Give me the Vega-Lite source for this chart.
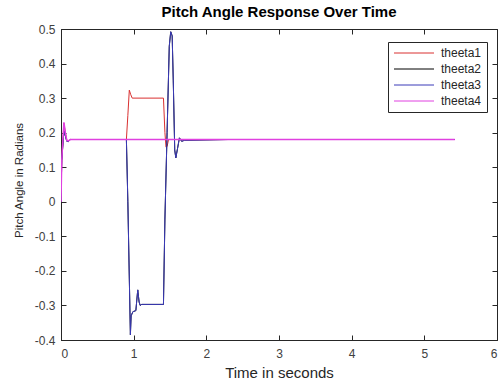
{
  "$schema": "https://vega.github.io/schema/vega-lite/v6.json",
  "width": 436,
  "height": 311,
  "autosize": {"type": "none"},
  "padding": {"left": 61, "top": 29, "right": 4, "bottom": 39},
  "background": "white",
  "config": {
    "font": "Liberation Sans",
    "view": {"stroke": "#262626", "strokeWidth": 1},
    "axis": {"grid": false, "domainColor": "#262626", "tickColor": "#262626", "labelColor": "#404040", "titleColor": "#262626", "labelFontSize": 12, "titleFontSize": 15, "titleFontWeight": "normal", "tickSize": -5, "labelFont": "Liberation Sans", "titleFont": "Liberation Sans"}
  },
  "title": {"text": "Pitch Angle Response Over Time", "fontSize": 15, "fontWeight": "bold", "font": "Liberation Sans", "color": "#000000", "offset": 3},
  "data": {"values": [
    {"t": 0, "v": 0, "s": "theeta1"},
    {"t": 0.01, "v": 0.12, "s": "theeta1"},
    {"t": 0.04, "v": 0.227, "s": "theeta1"},
    {"t": 0.06, "v": 0.2, "s": "theeta1"},
    {"t": 0.08, "v": 0.178, "s": "theeta1"},
    {"t": 0.1, "v": 0.175, "s": "theeta1"},
    {"t": 0.13, "v": 0.1802, "s": "theeta1"},
    {"t": 0.9, "v": 0.1802, "s": "theeta1"},
    {"t": 0.92, "v": 0.25, "s": "theeta1"},
    {"t": 0.94, "v": 0.323, "s": "theeta1"},
    {"t": 0.96, "v": 0.31, "s": "theeta1"},
    {"t": 0.98, "v": 0.3, "s": "theeta1"},
    {"t": 1.41, "v": 0.3, "s": "theeta1"},
    {"t": 1.43, "v": 0.2, "s": "theeta1"},
    {"t": 1.445, "v": 0.158, "s": "theeta1"},
    {"t": 1.46, "v": 0.16, "s": "theeta1"},
    {"t": 1.48, "v": 0.1802, "s": "theeta1"},
    {"t": 5.42, "v": 0.1802, "s": "theeta1"},

    {"t": 0, "v": 0, "s": "theeta2"},
    {"t": 0.01, "v": 0.12, "s": "theeta2"},
    {"t": 0.04, "v": 0.205, "s": "theeta2"},
    {"t": 0.06, "v": 0.19, "s": "theeta2"},
    {"t": 0.08, "v": 0.175, "s": "theeta2"},
    {"t": 0.1, "v": 0.174, "s": "theeta2"},
    {"t": 0.13, "v": 0.1802, "s": "theeta2"},
    {"t": 0.9, "v": 0.1802, "s": "theeta2"},
    {"t": 0.92, "v": 0.0, "s": "theeta2"},
    {"t": 0.955, "v": -0.385, "s": "theeta2"},
    {"t": 0.965, "v": -0.33, "s": "theeta2"},
    {"t": 0.99, "v": -0.318, "s": "theeta2"},
    {"t": 1.03, "v": -0.315, "s": "theeta2"},
    {"t": 1.056, "v": -0.255, "s": "theeta2"},
    {"t": 1.075, "v": -0.29, "s": "theeta2"},
    {"t": 1.09, "v": -0.3, "s": "theeta2"},
    {"t": 1.11, "v": -0.297, "s": "theeta2"},
    {"t": 1.41, "v": -0.297, "s": "theeta2"},
    {"t": 1.43, "v": -0.05, "s": "theeta2"},
    {"t": 1.46, "v": 0.2, "s": "theeta2"},
    {"t": 1.49, "v": 0.45, "s": "theeta2"},
    {"t": 1.51, "v": 0.492, "s": "theeta2"},
    {"t": 1.53, "v": 0.48, "s": "theeta2"},
    {"t": 1.545, "v": 0.35, "s": "theeta2"},
    {"t": 1.565, "v": 0.15, "s": "theeta2"},
    {"t": 1.58, "v": 0.127, "s": "theeta2"},
    {"t": 1.6, "v": 0.15, "s": "theeta2"},
    {"t": 1.63, "v": 0.185, "s": "theeta2"},
    {"t": 1.66, "v": 0.175, "s": "theeta2"},
    {"t": 1.7, "v": 0.178, "s": "theeta2"},
    {"t": 2.3, "v": 0.1802, "s": "theeta2"},
    {"t": 5.42, "v": 0.1802, "s": "theeta2"},

    {"t": 0, "v": 0, "s": "theeta3"},
    {"t": 0.01, "v": 0.12, "s": "theeta3"},
    {"t": 0.04, "v": 0.205, "s": "theeta3"},
    {"t": 0.06, "v": 0.19, "s": "theeta3"},
    {"t": 0.08, "v": 0.175, "s": "theeta3"},
    {"t": 0.1, "v": 0.174, "s": "theeta3"},
    {"t": 0.13, "v": 0.1802, "s": "theeta3"},
    {"t": 0.9, "v": 0.1802, "s": "theeta3"},
    {"t": 0.92, "v": 0.0, "s": "theeta3"},
    {"t": 0.955, "v": -0.385, "s": "theeta3"},
    {"t": 0.965, "v": -0.33, "s": "theeta3"},
    {"t": 0.99, "v": -0.318, "s": "theeta3"},
    {"t": 1.03, "v": -0.315, "s": "theeta3"},
    {"t": 1.056, "v": -0.255, "s": "theeta3"},
    {"t": 1.075, "v": -0.29, "s": "theeta3"},
    {"t": 1.09, "v": -0.3, "s": "theeta3"},
    {"t": 1.11, "v": -0.297, "s": "theeta3"},
    {"t": 1.41, "v": -0.297, "s": "theeta3"},
    {"t": 1.43, "v": -0.05, "s": "theeta3"},
    {"t": 1.46, "v": 0.2, "s": "theeta3"},
    {"t": 1.49, "v": 0.45, "s": "theeta3"},
    {"t": 1.51, "v": 0.492, "s": "theeta3"},
    {"t": 1.53, "v": 0.48, "s": "theeta3"},
    {"t": 1.545, "v": 0.35, "s": "theeta3"},
    {"t": 1.565, "v": 0.15, "s": "theeta3"},
    {"t": 1.58, "v": 0.127, "s": "theeta3"},
    {"t": 1.6, "v": 0.15, "s": "theeta3"},
    {"t": 1.63, "v": 0.185, "s": "theeta3"},
    {"t": 1.66, "v": 0.175, "s": "theeta3"},
    {"t": 1.7, "v": 0.178, "s": "theeta3"},
    {"t": 2.3, "v": 0.1802, "s": "theeta3"},
    {"t": 5.42, "v": 0.1802, "s": "theeta3"},

    {"t": 0, "v": 0, "s": "theeta4"},
    {"t": 0.01, "v": 0.12, "s": "theeta4"},
    {"t": 0.04, "v": 0.23, "s": "theeta4"},
    {"t": 0.06, "v": 0.2, "s": "theeta4"},
    {"t": 0.08, "v": 0.178, "s": "theeta4"},
    {"t": 0.1, "v": 0.176, "s": "theeta4"},
    {"t": 0.13, "v": 0.1802, "s": "theeta4"},
    {"t": 5.42, "v": 0.1802, "s": "theeta4"}
  ]},
  "layer": [
    {
      "transform": [{"filter": "datum.s == 'theeta1'"}],
      "mark": {"type": "line", "strokeWidth": 1, "clip": true},
      "encoding": {
        "x": {"field": "t", "type": "quantitative", "scale": {"domain": [0, 6], "nice": false}, "axis": {"title": "Time in seconds", "values": [0, 1, 2, 3, 4, 5, 6], "format": "d", "labelPadding": 13, "titleX": 218, "titleY": 32, "titleBaseline": "middle"}},
        "y": {"field": "v", "type": "quantitative", "scale": {"domain": [-0.4, 0.5], "nice": false, "zero": false}, "axis": {"title": "Pitch Angle in Radians", "titleFontSize": 11.5, "values": [-0.4, -0.3, -0.2, -0.1, 0, 0.1, 0.2, 0.3, 0.4, 0.5], "labelExpr": "replace(format(datum.value, '.1~f'), '\u2212', '-')", "labelPadding": 11, "titleX": -42, "titleY": 151, "titleBaseline": "middle", "titleAngle": -90}},
        "color": {"field": "s", "type": "nominal", "scale": {"domain": ["theeta1", "theeta2", "theeta3", "theeta4"], "range": ["#d93030", "#000000", "#3a3ab8", "#e040e0"]},
          "legend": {"title": null, "orient": "none", "legendX": 327, "legendY": 13, "symbolType": "M-1,0H7", "symbolSize": 100, "symbolStrokeWidth": 1, "labelFontSize": 12, "labelColor": "#262626", "strokeColor": "#262626", "fillColor": "white", "padding": 5, "rowPadding": 4, "labelOffset": 36}}
      }
    },
    {
      "transform": [{"filter": "datum.s == 'theeta2'"}],
      "mark": {"type": "line", "strokeWidth": 1, "clip": true},
      "encoding": {
        "x": {"field": "t", "type": "quantitative", "axis": null},
        "y": {"field": "v", "type": "quantitative", "axis": null},
        "color": {"field": "s", "type": "nominal"}
      }
    },
    {
      "transform": [{"filter": "datum.s == 'theeta3'"}],
      "mark": {"type": "line", "strokeWidth": 1, "clip": true},
      "encoding": {
        "x": {"field": "t", "type": "quantitative", "axis": null},
        "y": {"field": "v", "type": "quantitative", "axis": null},
        "color": {"field": "s", "type": "nominal"}
      }
    },
    {
      "transform": [{"filter": "datum.s == 'theeta4'"}],
      "mark": {"type": "line", "strokeWidth": 1.5, "clip": true},
      "encoding": {
        "x": {"field": "t", "type": "quantitative", "axis": null},
        "y": {"field": "v", "type": "quantitative", "axis": null},
        "color": {"field": "s", "type": "nominal"}
      }
    },
    {
      "mark": {"type": "line", "strokeOpacity": 0},
      "encoding": {
        "x": {"field": "t", "type": "quantitative", "axis": {"orient": "top", "title": null, "labels": false, "domain": false, "values": [0, 1, 2, 3, 4, 5, 6]}},
        "y": {"field": "v", "type": "quantitative", "axis": {"orient": "right", "title": null, "labels": false, "domain": false, "values": [-0.4, -0.3, -0.2, -0.1, 0, 0.1, 0.2, 0.3, 0.4, 0.5]}}
      }
    }
  ],
  "resolve": {"axis": {"x": "independent", "y": "independent"}}
}
